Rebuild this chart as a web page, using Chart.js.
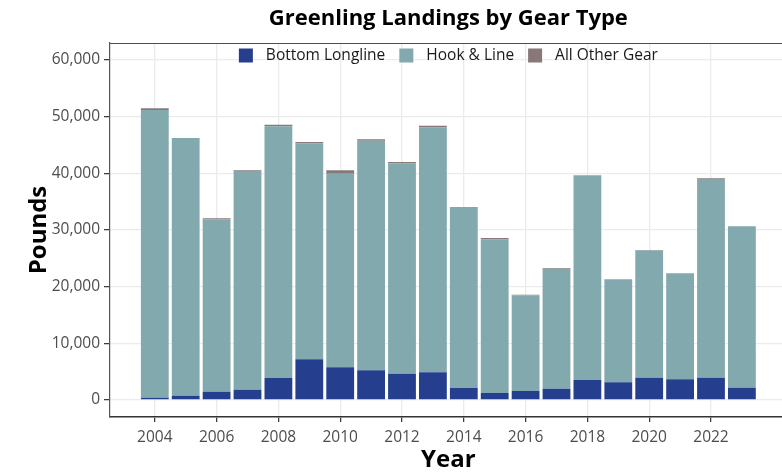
<!DOCTYPE html>
<html>
<head>
<meta charset="utf-8">
<script src="https://cdn.jsdelivr.net/npm/chart.js@4.4.1/dist/chart.umd.min.js"></script>
<style>
  html, body { margin: 0; padding: 0; background: #ffffff; overflow: hidden; width: 782px; height: 475px; }
  #wrap { position: relative; width: 790px; height: 475px; }
</style>
</head>
<body>
<div id="wrap"><canvas id="c" width="790" height="475"></canvas></div>
<script>
const years = [2004, 2005, 2006, 2007, 2008, 2009, 2010, 2011, 2012, 2013,
               2014, 2015, 2016, 2017, 2018, 2019, 2020, 2021, 2022, 2023];
const bottomLongline = [400, 770, 1470, 1820, 3880, 7180, 5760, 5240, 4650, 4880,
                        2120, 1230, 1590, 2000, 3530, 3120, 3940, 3650, 3940, 2180];
const hookAndLine = [50770, 45460, 30390, 38460, 44450, 38150, 34170, 40510, 37100, 43270,
                     31940, 27110, 16890, 21140, 36120, 18180, 22430, 18700, 35080, 28470];
const allOtherGear = [300, 0, 200, 250, 250, 200, 600, 250, 250, 250,
                      0, 250, 100, 150, 0, 0, 100, 0, 100, 0];
const xTickYears = [2004, 2006, 2008, 2010, 2012, 2014, 2016, 2018, 2020, 2022];
const yTickValues = [0, 10000, 20000, 30000, 40000, 50000, 60000];

const FONT = "'Open Sans', 'Noto Sans', sans-serif";

const toPoints = arr => arr.map((v, i) => ({ x: years[i], y: v }));

const panelTop = {
  id: 'panelTop',
  afterDraw(chart) {
    const { ctx, chartArea } = chart;
    ctx.save();
    ctx.strokeStyle = '#4d4d4d';
    ctx.lineWidth = 1.2;
    ctx.beginPath();
    ctx.moveTo(chartArea.left, chartArea.top + 0.5);
    ctx.lineTo(chartArea.right, chartArea.top + 0.5);
    ctx.stroke();
    ctx.restore();
  }
};

// Legend drawn inside the top of the panel, centred, horizontal
const topLegend = {
  id: 'topLegend',
  afterDatasetsDraw(chart) {
    const { ctx, chartArea } = chart;
    const box = 14, gapText = 13, gapItem = 14;
    ctx.save();
    ctx.font = `15.5px ${FONT}`;
    ctx.textBaseline = 'middle';
    const items = chart.data.datasets.map(ds => ({
      label: ds.label, color: ds.backgroundColor, w: ctx.measureText(ds.label).width
    }));
    let total = 0;
    items.forEach((it, i) => { total += box + gapText + it.w + (i < items.length - 1 ? gapItem : 0); });
    let x = (chartArea.left + chartArea.right) / 2 - total / 2;
    const cy = chartArea.top + 12.5;
    items.forEach(it => {
      ctx.fillStyle = it.color;
      ctx.fillRect(x, cy - box / 2, box, box);
      x += box + gapText;
      ctx.fillStyle = '#1a1a1a';
      ctx.fillText(it.label, x, cy + 0.5);
      x += it.w + gapItem;
    });
    ctx.restore();
  }
};

new Chart(document.getElementById('c'), {
  type: 'bar',
  data: {
    datasets: [
      { label: 'Bottom Longline', data: toPoints(bottomLongline), backgroundColor: '#253F8E' },
      { label: 'Hook & Line', data: toPoints(hookAndLine), backgroundColor: '#82A9AD' },
      { label: 'All Other Gear', data: toPoints(allOtherGear), backgroundColor: '#887878' }
    ]
  },
  options: {
    responsive: false,
    animation: false,
    layout: { padding: { right: 3.3, left: 0, top: 0, bottom: 0 } },
    datasets: { bar: { barPercentage: 0.9, categoryPercentage: 1.0, borderWidth: 0 } },
    plugins: {
      title: {
        display: true,
        text: 'Greenling Landings by Gear Type',
        fullSize: false,
        color: '#000000',
        font: { family: FONT, size: 22, weight: 'bold', lineHeight: 1.2 },
        padding: { top: 5.3, bottom: 11.3 }
      },
      legend: { display: false },
      tooltip: { enabled: false }
    },
    scales: {
      x: {
        type: 'linear',
        stacked: true,
        offset: false,
        min: 2002.55,
        max: 2024.45,
        afterBuildTicks: s => { s.ticks = xTickYears.map(v => ({ value: v })); },
        afterFit: s => { s.height = 58; },
        ticks: {
          color: '#4d4d4d',
          font: { family: FONT, size: 15.5 },
          padding: 6,
          maxRotation: 0,
          autoSkip: false,
          callback: v => String(v)
        },
        grid: {
          offset: false,
          color: '#EBEBEB',
          lineWidth: 1.3,
          tickColor: '#333333',
          tickLength: 5,
          tickWidth: 1.2
        },
        border: { display: true, color: '#333333', width: 1.6 },
        title: {
          display: true,
          text: 'Year',
          color: '#000000',
          font: { family: FONT, size: 24, weight: 'bold', lineHeight: 1.2 },
          padding: { top: 0, bottom: 0.5 }
        }
      },
      y: {
        stacked: true,
        min: -3000,
        max: 63000,
        afterBuildTicks: s => { s.ticks = yTickValues.map(v => ({ value: v })); },
        afterFit: s => { s.width = 110; },
        ticks: {
          color: '#4d4d4d',
          font: { family: FONT, size: 15.5 },
          padding: 4,
          callback: v => Number(v).toLocaleString('en-US')
        },
        grid: {
          color: '#EBEBEB',
          lineWidth: 1.3,
          tickColor: '#333333',
          tickLength: 6,
          tickWidth: 1.2
        },
        border: { display: true, color: '#555555', width: 1.2 },
        title: {
          display: true,
          text: 'Pounds',
          color: '#000000',
          font: { family: FONT, size: 24, weight: 'bold', lineHeight: 1.2 },
          padding: { top: 25 }
        }
      }
    }
  },
  plugins: [panelTop, topLegend]
});
</script>
</body>
</html>
